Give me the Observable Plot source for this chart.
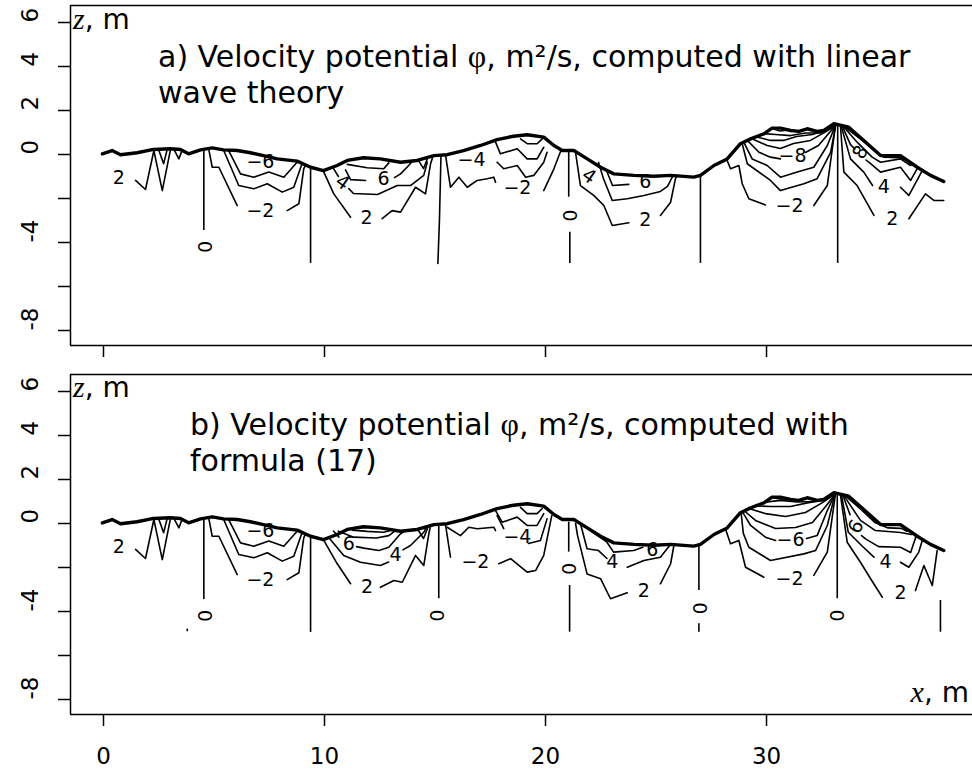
<!DOCTYPE html>
<html><head><meta charset="utf-8">
<script src="https://cdn.jsdelivr.net/npm/d3@7"></script>
<script src="https://cdn.jsdelivr.net/npm/@observablehq/plot@0.6"></script>
<style>body{margin:0;background:#fff}#chart svg{display:block}</style>
</head><body><div id="chart"></div><script>
// ---- axes
const xTicks = [0, 10, 20, 30];
const yTicks = [6, 4, 2, 0, -2, -4, -6, -8];
const yTickLabels = ["6", "4", "2", "0", "-4", "-8"];
const yTickLabelValues = [6, 4, 2, 0, -4, -8];
const xDomain = [-1.493, 39.32];
const zDomain = [-8.682, 6.773];

// ---- free surface profile (x, z) shared by both panels
const surface = [[-0.05,0.03],[0.39,0.18],[0.77,-0.01],[1.52,0.08],[2.26,0.23],[3.03,0.26],[3.48,0.23],[3.85,0.03],[4.39,0.21],[4.92,0.30],[5.43,0.21],[6.05,0.18],[6.65,0.08],[7.24,-0.05],[7.86,-0.20],[8.76,-0.30],[9.37,-0.58],[9.95,-0.73],[10.57,-0.50],[11.03,-0.27],[11.76,-0.15],[12.53,-0.20],[13.44,-0.35],[14.19,-0.27],[14.95,-0.05],[15.55,-0.01],[16.29,0.18],[17.06,0.41],[17.81,0.68],[18.55,0.83],[19.17,0.90],[19.92,0.79],[20.38,0.41],[20.76,0.18],[21.28,0.18],[21.89,-0.20],[22.49,-0.58],[23.09,-0.88],[24.00,-0.95],[24.90,-0.99],[25.66,-0.95],[26.71,-1.03],[27.01,-0.95],[27.62,-0.50],[28.22,-0.20],[28.82,0.49],[29.28,0.71],[29.88,0.94],[30.25,1.20],[30.63,1.20],[31.09,1.09],[31.46,1.05],[31.84,1.17],[32.29,1.05],[32.59,1.09],[33.05,1.40],[33.72,1.24],[34.40,0.64],[35.16,-0.05],[36.06,-0.05],[36.82,-0.58],[37.42,-0.95],[38.02,-1.23]];

// ---- contour polylines common to both panels (x < 10 m)
const contoursCommon = [
  [[1.45,-1.18],[1.90,-1.59],[2.28,0.18],[2.66,-1.64],[3.03,0.22]],
  [[2.50,0.20],[2.72,-0.42],[2.88,0.22]],
  [[3.18,0.24],[3.41,-0.20],[3.56,0.20]],
  [[4.76,0.26],[4.92,-0.58],[5.22,-0.58],[6.05,-2.32]],
  [[8.31,-2.55],[8.84,-2.24],[9.06,-0.65],[9.15,-0.45]],
  [[5.44,0.18],[6.12,-1.41],[6.80,-1.56],[7.41,-1.33],[8.09,-1.71],[8.61,-1.49],[8.99,-0.40]],
  [[5.67,0.16],[6.20,-0.88],[6.80,-1.03],[7.48,-0.80],[8.16,-1.03],[8.76,-0.35]]
];
// label, x, z, rotation
const labelsCommon = [["2",0.69,-1.05,0],["−2",7.1,-2.55,0],["−6",7.1,-0.32,0],["0",4.54,-4.2,90]];
// nodal (phi = 0) vertical lines: x, z top, z bottom
const nodalCommon = [[4.54,0.23,-3.45],[9.37,-0.59,-4.95]];

// ---- panel a: linear wave theory
const contoursA = [
  [[9.97,-0.80],[10.42,-1.79],[11.18,-2.85]],
  [[12.61,-2.92],[13.06,-2.55],[13.44,-2.62],[14.12,-1.49],[14.57,-1.79],[14.80,-0.42],[14.89,-0.14]],
  [[10.41,-0.64],[10.63,-1.00]],
  [[11.10,-1.55],[11.31,-1.77],[12.40,-1.82],[13.29,-1.41],[13.89,-1.41],[14.49,-0.95],[14.65,-0.35]],
  [[10.95,-0.70],[11.18,-1.14],[11.86,-1.18]],
  [[13.17,-1.05],[13.44,-0.88],[13.81,-0.50],[13.98,-0.30]],
  [[11.03,-0.45],[11.93,-0.60],[12.68,-0.65],[12.91,-0.38]],
  [[14.25,-0.27],[14.48,-0.64],[14.66,-0.18]],
  [[15.27,-0.05],[15.20,-3.0],[15.13,-4.95]],
  [[15.48,-0.05],[15.70,-1.49],[16.08,-1.03],[16.46,-1.49],[16.91,-1.18],[17.36,-1.10],[17.66,-1.03],[17.74,-1.26]],
  [[19.92,-1.64],[20.38,-0.65],[20.68,0.14]],
  [[17.81,-0.35],[18.11,-0.65],[18.72,-0.50],[19.10,-1.03],[19.47,-0.95],[19.92,-0.35],[20.07,0.10]],
  [[17.74,0.56],[17.96,0.03],[18.72,0.26],[19.17,-0.20],[19.62,-0.20],[19.92,0.33]],
  [[18.87,0.71],[19.17,0.49],[19.62,0.49],[19.85,0.71]],
  [[21.36,0.09],[21.58,-1.41],[22.18,-1.86],[22.64,-2.32],[23.02,-3.23],[23.77,-3.10]],
  [[25.20,-2.77],[25.66,-2.17],[25.88,-1.10],[25.97,-0.95]],
  [[22.40,-0.36],[22.62,-1.09],[23.02,-2.09],[23.70,-2.01],[24.45,-1.86],[25.20,-1.68],[25.52,-1.45],[25.75,-1.00]],
  [[22.76,-0.73],[23.03,-1.41],[23.77,-1.36]],
  [[28.22,-0.27],[28.37,-0.65],[28.75,-0.50],[28.90,-1.33],[29.20,-2.01],[29.95,-2.29]],
  [[32.14,-2.32],[32.75,-1.41],[33.12,1.32]],
  [[28.90,0.49],[29.13,-0.42],[30.18,-1.18],[30.63,-1.64],[31.69,-1.33],[32.29,-1.10],[32.90,0.10],[33.12,1.27]],
  [[28.97,0.56],[29.35,-0.20],[30.03,-0.50],[30.63,-1.03],[31.39,-0.80],[32.14,-0.58],[32.75,0.41],[33.10,1.28]],
  [[29.13,0.64],[29.66,0.10],[30.18,-0.12],[30.63,-0.20]],
  [[31.76,0.09],[32.35,0.41],[32.81,0.95],[33.12,1.30]],
  [[29.28,0.74],[30.03,0.41],[30.63,0.27],[31.22,0.50],[31.99,0.64],[32.71,1.05],[33.12,1.32]],
  [[29.55,0.80],[30.18,0.64],[30.77,0.64],[31.36,0.82],[32.08,0.91],[32.81,1.15],[33.12,1.34]],
  [[29.90,0.95],[30.41,0.91],[31.09,0.86],[31.76,0.98],[32.44,0.98],[33.10,1.36]],
  [[30.30,1.17],[30.60,1.07],[30.90,1.10]],
  [[33.35,1.24],[33.50,-0.80],[34.10,-1.41],[34.86,-2.77]],
  [[36.44,-2.92],[37.19,-1.79],[37.57,-2.09],[38.02,-2.09]],
  [[33.39,1.25],[33.80,-0.20],[34.40,-0.80],[34.80,-1.41]],
  [[36.06,-1.49],[36.44,-1.86],[36.89,-1.03],[37.05,-0.72]],
  [[33.44,1.27],[33.80,0.45],[34.0,0.25]],
  [[34.5,-0.25],[34.71,-0.42],[35.16,-0.80],[36.06,-0.58],[36.52,-1.18],[36.83,-0.62]],
  [[33.48,1.27],[34.10,0.56],[34.78,-0.12],[35.16,-0.35],[36.06,-0.20],[36.52,-0.50],[36.60,-0.42]],
  [[33.52,1.27],[34.2,0.75],[34.9,0.15],[35.3,-0.12],[36.0,-0.14],[36.3,-0.25]]
];
const labelsA = [["2",11.9,-2.88,0],["4",10.81,-1.27,35],["6",12.67,-1.09,0],
  ["−4",16.65,-0.23,0],["−2",18.73,-1.52,0],["0",21.05,-2.77,90],
  ["4",21.97,-0.99,35],["6",24.52,-1.26,0],["2",24.52,-2.97,0],
  ["−2",31.04,-2.32,0],["−8",31.18,-0.05,0],
  ["2",35.69,-2.92,0],["4",35.31,-1.49,0],["8",34.25,0.1,-60]];
const nodalA = [[21.05,0.10,-1.94],[21.10,-3.53,-4.95],[27.01,-0.95,-4.95],[33.22,1.32,-4.95]];

// ---- panel b: formula (17)
const contoursB = [
  [[9.97,-0.77],[10.57,-1.82],[11.18,-2.74]],
  [[12.53,-2.90],[13.14,-2.59],[13.52,-2.67],[14.12,-1.45],[14.49,-1.91],[14.72,-0.47],[14.80,-0.09]],
  [[10.2,-0.65],[10.87,-1.45],[11.63,-1.76],[12.53,-1.91],[12.9,-1.75]],
  [[13.55,-1.2],[13.89,-1.0],[14.49,-0.40],[14.6,-0.2]],
  [[10.41,-0.35],[10.65,-0.62]],
  [[11.45,-1.05],[11.78,-1.12],[12.46,-1.23],[12.91,-1.08],[13.44,-0.47],[13.67,-0.32]],
  [[10.63,-0.35],[11.32,-0.62],[12.35,-0.66],[12.91,-0.55],[13.21,-0.32]],
  [[11.25,-0.30],[11.93,-0.36],[12.67,-0.40],[12.95,-0.33]],
  [[14.25,-0.32],[14.48,-0.68],[14.66,-0.23]],
  [[15.48,-0.09],[15.70,-1.53]],
  [[17.89,-1.83],[18.42,-1.60],[19.17,-2.21],[19.55,-2.14],[19.92,-1.45],[20.28,0.35]],
  [[15.55,-0.17],[16.15,-0.55],[16.53,-0.17],[16.91,-0.24],[17.66,-0.17],[17.74,-0.32]],
  [[17.81,0.36],[18.11,-0.23]],
  [[19.23,-0.91],[19.77,-0.77],[20.07,0.21]],
  [[17.74,0.59],[18.04,0.06],[18.72,0.29],[19.17,-0.09],[19.62,-0.09],[19.92,0.45]],
  [[18.87,0.73],[19.17,0.45],[19.62,0.45],[19.85,0.68]],
  [[21.36,0.0],[21.45,-0.55],[21.88,-2.29],[22.49,-2.51],[22.94,-3.42],[23.70,-3.15]],
  [[25.20,-2.74],[25.66,-1.83],[25.81,-1.0]],
  [[21.58,0.0],[21.88,-1.15],[22.40,-1.23],[22.78,-1.59]],
  [[23.70,-1.99],[24.45,-1.68],[25.20,-1.53],[25.50,-1.15],[25.66,-0.95]],
  [[22.0,-0.3],[22.78,-0.85],[23.08,-1.30],[23.99,-1.23],[24.4,-1.08]],
  [[28.14,-0.24],[28.37,-0.92],[28.75,-0.77],[29.05,-1.99],[29.88,-2.44]],
  [[32.14,-2.36],[32.75,-1.30],[33.12,1.35]],
  [[28.85,0.50],[28.95,-0.45],[29.20,-1.08],[30.18,-1.68],[31.69,-1.38],[32.22,-1.23],[32.75,-0.09],[33.10,1.33]],
  [[28.92,0.52],[29.28,-0.09],[29.95,-0.62],[30.41,-0.77]],
  [[31.81,-0.68],[32.29,-0.55],[32.75,0.59],[33.10,1.33]],
  [[28.99,0.58],[29.50,0.14],[30.41,-0.23],[31.31,-0.18],[32.08,0.05],[32.71,0.82],[33.10,1.33]],
  [[29.20,0.68],[29.95,0.45],[30.86,0.32],[31.76,0.50],[32.53,0.95],[33.10,1.34]],
  [[29.55,0.80],[30.18,0.77],[31.09,0.77],[31.90,0.95],[32.58,1.05],[33.10,1.35]],
  [[29.95,0.97],[30.63,1.05],[31.40,0.98],[32.08,1.0],[32.71,1.12],[33.10,1.36]],
  [[30.30,1.17],[30.60,1.12],[30.90,1.12]],
  [[33.35,1.27],[33.65,-0.85],[34.25,-1.76],[34.71,-2.51],[35.24,-3.35]],
  [[36.74,-3.05],[37.12,-1.91],[37.50,-2.82],[37.72,-1.23]],
  [[33.39,1.30],[33.70,-0.40],[34.30,-1.0],[34.86,-1.53]],
  [[36.06,-1.76],[36.44,-1.99],[36.89,-1.30],[37.06,-0.73]],
  [[33.44,1.32],[33.78,0.40]],
  [[34.3,-0.55],[34.48,-0.70],[35.07,-1.05],[36.06,-1.08],[36.52,-1.32],[36.76,-0.60]],
  [[33.48,1.30],[34.25,0.14],[34.93,-0.32],[36.06,-0.41],[36.55,-0.50]],
  [[33.52,1.30],[34.3,0.62],[34.9,0.05],[35.5,-0.2],[36.1,-0.22],[36.35,-0.35]]
];
const labelsB = [["6",11.10,-0.92,0],["4",13.21,-1.45,0],["2",11.93,-2.9,0],
  ["0",15.07,-4.18,90],["−2",16.83,-1.73,0],["−4",18.73,-0.59,0],
  ["0",21.03,-2.06,90],["4",23.02,-1.76,0],["2",24.45,-3.05,0],["6",24.83,-1.2,0],
  ["0",26.94,-3.85,90],["−2",31.04,-2.5,0],["−6",31.09,-0.73,0],
  ["2",36.06,-3.15,0],["4",35.38,-1.73,0],["6",34.05,-0.15,-60],["0",33.15,-4.18,90]];
const nodalB = [[3.79,-4.80,-4.92],[15.17,-0.09,-3.42],[21.05,0.06,-1.30],[21.09,-2.82,-4.94],
  [26.94,-1.0,-3.05],[26.94,-4.56,-4.94],[33.20,1.34,-3.42],[37.87,-3.50,-4.94]];

// ---- drawing
function rows(lines) { return lines.flatMap((pts, i) => pts.map(([x, z]) => ({x, z, id: i}))); }

function panel({lines, labels, nodal, height, marginTop, marginBottom, showX}) {
  const marks = [
    Plot.ruleY(zDomain, {stroke: "black", strokeWidth: 1.5}),
    Plot.ruleX([xDomain[0]], {stroke: "black", strokeWidth: 1.5}),
    Plot.axisY({ticks: yTicks, tickSize: 12, tickFormat: () => "", label: null, strokeWidth: 1.5}),
    Plot.text(yTickLabelValues, {y: d => d, text: (d, i) => yTickLabels[i], frameAnchor: "left", dx: -40, rotate: -90, fontSize: 23}),
    Plot.axisX({ticks: xTicks, tickSize: 12, tickFormat: () => "", label: null, strokeWidth: 1.5}),
    Plot.ruleX(nodal, {x: d => d[0], y1: d => d[1], y2: d => d[2], strokeWidth: 1.6}),
    Plot.line(rows(lines), {x: "x", y: "z", z: "id", strokeWidth: 1.6}),
    Plot.line(surface, {x: d => d[0], y: d => d[1], strokeWidth: 3.4}),
    Plot.text(labels, {x: d => d[1], y: d => d[2], text: d => d[0], rotate: d => d[3], fontSize: 19})
  ];
  if (showX) marks.push(Plot.text(xTicks, {x: d => d, text: d => String(d), frameAnchor: "bottom", dy: 49, fontSize: 23}));
  return Plot.plot({
    width: 972, height, marginLeft: 70, marginRight: 0, marginTop, marginBottom,
    x: {domain: xDomain}, y: {domain: zDomain},
    style: {fontFamily: "DejaVu Sans", background: "white", color: "black"},
    marks
  });
}

function addTitle(svg, x, lines) {
  const s = d3.select(svg);
  const t = s.append("text").attr("text-anchor", "start").attr("font-family", "DejaVu Sans").attr("font-size", 30).attr("fill", "black");
  lines.forEach((ln, k) => {
    const y = 67 + k * 36;
    ln.forEach((part, j) => {
      const ts = t.append("tspan").text(part.t);
      if (j === 0) ts.attr("x", x).attr("y", y);
      if (part.serif) ts.attr("font-family", "Liberation Serif").attr("font-size", 32);
    });
  });
  const z = s.append("text").attr("text-anchor", "start").attr("x", 73).attr("y", 29).attr("font-family", "DejaVu Sans").attr("font-size", 28);
  z.append("tspan").text("z").attr("font-family", "Liberation Serif").attr("font-style", "italic").attr("font-size", 30);
  z.append("tspan").text(", m");
}

const chart = document.getElementById("chart");
const svgA = panel({lines: contoursCommon.concat(contoursA), labels: labelsCommon.concat(labelsA), nodal: nodalCommon.concat(nodalA), height: 368, marginTop: 5, marginBottom: 23, showX: false});
addTitle(svgA, 158, [[{t: "a) Velocity potential "}, {t: "φ", serif: true}, {t: ", m²/s, computed with linear"}], [{t: "wave theory"}]]);
const svgB = panel({lines: contoursCommon.concat(contoursB), labels: labelsCommon.concat(labelsB), nodal: nodalCommon.concat(nodalB), height: 410, marginTop: 6, marginBottom: 64, showX: true});
addTitle(svgB, 190, [[{t: "b) Velocity potential "}, {t: "φ", serif: true}, {t: ", m²/s, computed with"}], [{t: "formula (17)"}]]);
const xm = d3.select(svgB).append("text").attr("text-anchor", "end").attr("x", 969).attr("y", 334).attr("font-family", "DejaVu Sans").attr("font-size", 28);
xm.append("tspan").text("x").attr("font-family", "Liberation Serif").attr("font-style", "italic").attr("font-size", 30);
xm.append("tspan").text(", m");
chart.append(svgA, svgB);
</script></body></html>
